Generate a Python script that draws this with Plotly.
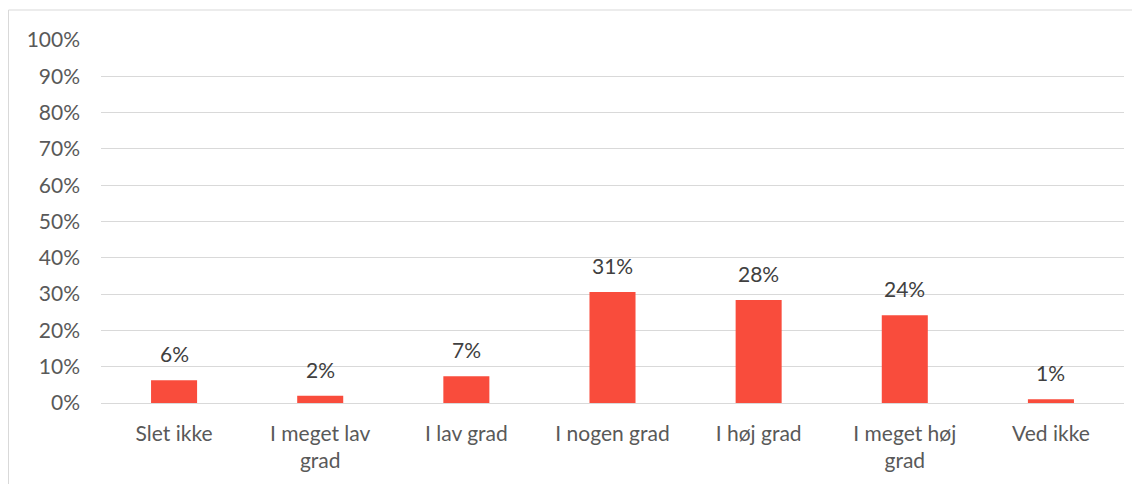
import plotly.graph_objects as go

categories = ["Slet ikke", "I meget lav<br>grad", "I lav grad", "I nogen grad", "I høj grad", "I meget høj<br>grad", "Ved ikke"]
values = [6.3, 2.0, 7.4, 30.6, 28.4, 24.2, 1.0]
tick_vals = [0, 10, 20, 30, 40, 50, 60, 70, 80, 90, 100]
tick_text = [f"{v}%" for v in tick_vals]
labels = [f"{round(v)}%" for v in values]

# page body has an 8px margin, so the figure is drawn 8px in from the window edge
W, H = 1132, 476
L, R, T, B = 93, 16, 32, 81
pw, ph = W - L - R, H - T - B

fig = go.Figure(go.Bar(
    x=categories, y=values,
    marker=dict(color="#F94C3C", line=dict(width=0)),
))

annotations = [dict(x=c, y=v, text=t, xref="x", yref="y", showarrow=False,
                    yanchor="bottom", yshift=12,
                    font=dict(size=21, color="#404040"))
               for c, v, t in zip(categories, values, labels)]

fig.update_layout(
    width=W, height=H, margin=dict(l=L, r=R, t=T, b=B),
    plot_bgcolor="white", paper_bgcolor="white",
    font=dict(family="Lato, Open Sans, sans-serif", size=21, color="#595959"),
    bargap=0.685, showlegend=False,
    xaxis=dict(showgrid=False, showline=False, ticks="", ticklabelstandoff=16,
               tickfont=dict(size=21, color="#595959")),
    yaxis=dict(range=[0, 100], tickvals=tick_vals, ticktext=tick_text,
               showgrid=True, gridcolor="#d9d9d9", gridwidth=1,
               zeroline=True, zerolinecolor="#d9d9d9", zerolinewidth=1,
               showline=False, ticks="", ticklabelstandoff=20,
               tickfont=dict(size=21, color="#595959")),
    annotations=annotations,
    shapes=[dict(type="rect", xref="paper", yref="paper",
                 x0=(0.5 - L) / pw, x1=(1131.5 - L) / pw,
                 y0=(H - B - 490) / ph, y1=(H - B - 2) / ph,
                 line=dict(color="#d9d9d9", width=1), layer="below")],
)

fig.write_html("out.html")
